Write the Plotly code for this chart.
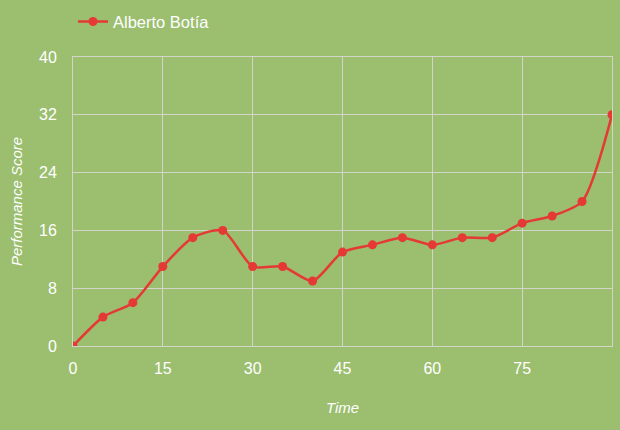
import plotly.graph_objects as go

time = [0, 5, 10, 15, 20, 25, 30, 35, 40, 45, 50, 55, 60, 65, 70, 75, 80, 85, 90]
score = [0, 4, 6, 11, 15, 16, 11, 11, 9, 13, 14, 15, 14, 15, 15, 17, 18, 20, 32]
x_ticks = [0, 15, 30, 45, 60, 75]
y_ticks = [0, 8, 16, 24, 32, 40]
series_name = "Alberto Botía"

BG = "#9bbe6f"
GRID = "#d2d6ca"
RED = "#e53935"
FONT = "Liberation Sans, Arial, Helvetica, sans-serif"

fig = go.Figure()
fig.add_trace(go.Scatter(
    x=time, y=score, name=series_name, mode="lines+markers",
    line=dict(color=RED, width=2.5, shape="spline", smoothing=0.7),
    marker=dict(color=RED, size=9),
))

fig.update_layout(
    width=620, height=430,
    paper_bgcolor=BG, plot_bgcolor=BG,
    margin=dict(l=73, r=8, t=57, b=84, autoexpand=False),
    font=dict(family=FONT, color="white"),
    showlegend=True,
    legend=dict(x=0.0, y=1.122, xanchor="left", yanchor="middle",
                font=dict(size=16.5, color="white"), bgcolor="rgba(0,0,0,0)"),
    xaxis=dict(range=[0, 90], tickvals=x_ticks, ticktext=[str(v) for v in x_ticks],
               showgrid=True, gridcolor=GRID, gridwidth=1, zeroline=False,
               showline=True, linecolor=GRID, mirror=True,
               tickfont=dict(size=16, color="white"), ticks="", ticklabelstandoff=8,
               title=dict(text="<i>Time</i>", font=dict(size=15, color="white"), standoff=26)),
    yaxis=dict(range=[0, 40], tickvals=y_ticks, ticktext=[str(v) for v in y_ticks],
               showgrid=True, gridcolor=GRID, gridwidth=1, zeroline=False,
               showline=True, linecolor=GRID, mirror=True,
               tickfont=dict(size=16, color="white"), ticks="", ticklabelstandoff=12,
               title=dict(text="<i>Performance Score</i>", font=dict(size=15, color="white"), standoff=12)),
)

fig.write_html("out.html", config={"displayModeBar": False},
               post_script="document.body.style.margin='0';document.body.style.padding='0';")
